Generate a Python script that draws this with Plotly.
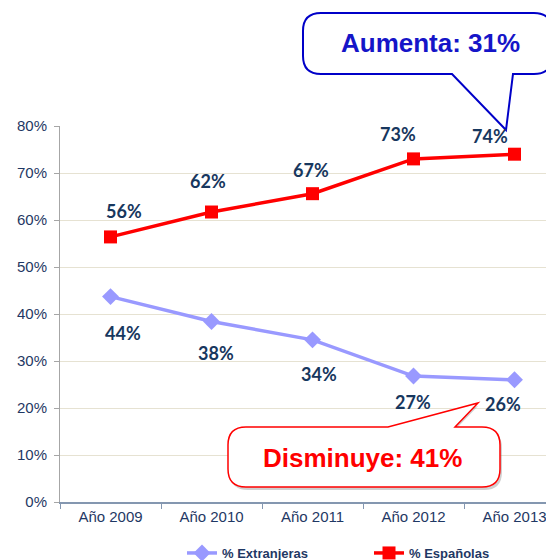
import plotly.graph_objects as go

# ---- data ----
years = ["Año 2009", "Año 2010", "Año 2011", "Año 2012", "Año 2013"]
extranjeras = [43.7, 38.4, 34.5, 26.8, 26.0]
espanolas = [56.4, 61.7, 65.6, 73.0, 74.0]
label_extranjeras = ["44%", "38%", "34%", "27%", "26%"]
label_espanolas = ["56%", "62%", "67%", "73%", "74%"]
y_ticks = [0, 10, 20, 30, 40, 50, 60, 70, 80]
y_tick_text = ["0%", "10%", "20%", "30%", "40%", "50%", "60%", "70%", "80%"]
callout_up = "Aumenta: 31%"
callout_down = "Disminuye: 41%"

# ---- layout geometry ----
# page body has an 8px default margin; work in screen pixels and convert
OFF = 8
W, H = 554 - OFF, 590
PLOT_L, PLOT_T, PLOT_B = 60, 126, 502      # screen pixels
L = PLOT_L - OFF
T = PLOT_T - OFF
B = H - (PLOT_B - OFF)
R = 0
PW, PH = W - L - R, H - T - B


def px(x):
    return (x - OFF - L) / PW


def py(y):
    return (H - B - (y - OFF)) / PH


# label offsets in pixels (xshift, yshift)
off_esp = [(13, 26), (-4, 31), (-2, 24), (-16, 25), (-25, 18)]
off_ext = [(12, -36), (4, -31), (6, -34), (-1, -26), (-12, -24)]

NAVY = "#1F3864"
LABEL_COL = "#17375E"

fig = go.Figure()
fig.add_trace(go.Scatter(
    x=years, y=extranjeras, name="% Extranjeras", mode="lines+markers",
    line=dict(color="#9999FF", width=3.5),
    marker=dict(symbol="diamond", size=13, color="#9999FF"),
    legend="legend",
))
fig.add_trace(go.Scatter(
    x=years, y=espanolas, name="% Españolas", mode="lines+markers",
    line=dict(color="#FF0000", width=3.5),
    marker=dict(symbol="square", size=13, color="#FF0000"),
    legend="legend2",
))

annotations = []
for xs, ys, labs, offs in [(years, espanolas, label_espanolas, off_esp),
                           (years, extranjeras, label_extranjeras, off_ext)]:
    for x, y, t, (dx, dy) in zip(xs, ys, labs, offs):
        annotations.append(dict(
            x=x, y=y, xref="x", yref="y", text=t, showarrow=False,
            xshift=dx, yshift=dy, xanchor="center", yanchor="middle",
            font=dict(family="Lato, Noto Sans, sans-serif", size=18, color=LABEL_COL, weight="bold"),
        ))


def callout_path(x0, y0, x1, y1, r, pointer, side):
    a, tx, ty, b = pointer
    P = lambda x, y: f"{px(x):.5f},{py(y):.5f}"
    d = f"M{P(x0 + r, y0)} "
    if side == "t":
        d += f"L{P(a, y0)} L{P(tx, ty)} L{P(b, y0)} "
    d += f"L{P(x1 - r, y0)} Q{P(x1, y0)} {P(x1, y0 + r)} "
    d += f"L{P(x1, y1 - r)} Q{P(x1, y1)} {P(x1 - r, y1)} "
    if side == "b":
        d += f"L{P(b, y1)} L{P(tx, ty)} L{P(a, y1)} "
    d += f"L{P(x0 + r, y1)} Q{P(x0, y1)} {P(x0, y1 - r)} "
    d += f"L{P(x0, y0 + r)} Q{P(x0, y0)} {P(x0 + r, y0)} Z"
    return d


shapes = [
    dict(type="path", xref="paper", yref="paper", layer="above",
         path=callout_path(303, 13, 552, 74, 18, (452, 506, 130, 513), "b"),
         line=dict(color="#0000C8", width=2), fillcolor="white"),
    dict(type="path", xref="paper", yref="paper", layer="above",
         path=callout_path(230, 430, 502, 490, 18, (388, 478, 406, 455), "t"),
         line=dict(color="rgba(0,0,0,0)", width=0), fillcolor="rgba(120,120,120,0.35)"),
    dict(type="path", xref="paper", yref="paper", layer="above",
         path=callout_path(228, 427, 500, 487, 18, (388, 478, 403, 455), "t"),
         line=dict(color="#FF0000", width=1.5), fillcolor="white"),
]

annotations.append(dict(
    x=px(430), y=py(43), xref="paper", yref="paper", text=callout_up, showarrow=False,
    xanchor="center", yanchor="middle",
    font=dict(family="Liberation Sans, Arial, sans-serif", size=26, color="#1515C8", weight="bold"),
))
annotations.append(dict(
    x=px(362), y=py(458), xref="paper", yref="paper", text=callout_down, showarrow=False,
    xanchor="center", yanchor="middle",
    font=dict(family="Liberation Sans, Arial, sans-serif", size=26, color="#FF0000", weight="bold"),
))

legend_style = dict(orientation="h", yanchor="middle", xanchor="left",
                    font=dict(size=13, color=NAVY, weight="bold"),
                    bgcolor="rgba(0,0,0,0)")

fig.update_layout(
    width=W, height=H,
    margin=dict(l=L, r=R, t=T, b=B, pad=0),
    paper_bgcolor="white", plot_bgcolor="white",
    font=dict(family="Liberation Sans, Arial, sans-serif", color=NAVY),
    showlegend=True,
    legend=dict(x=px(182), y=py(553), **legend_style),
    legend2=dict(x=px(369), y=py(553), **legend_style),
    annotations=annotations,
    shapes=shapes,
    xaxis=dict(
        type="category", range=[-0.5, -0.5 + PW / 101.0],
        showgrid=False, showline=True, linecolor="#8497B0", linewidth=1.5,
        ticks="outside", tickson="boundaries", ticklen=5, tickcolor="#8497B0",
        tickfont=dict(size=15, color=NAVY), fixedrange=True,
    ),
    yaxis=dict(
        range=[0, 80], tickvals=y_ticks, ticktext=y_tick_text,
        showgrid=True, gridcolor="#E6E2D2", gridwidth=1,
        showline=True, linecolor="#A6A6A6", linewidth=1,
        ticks="outside", ticklen=5, tickcolor="#A6A6A6",
        tickfont=dict(size=15, color=NAVY), ticklabelstandoff=4,
        zeroline=False, fixedrange=True,
    ),
)

fig.write_html("out.html")
